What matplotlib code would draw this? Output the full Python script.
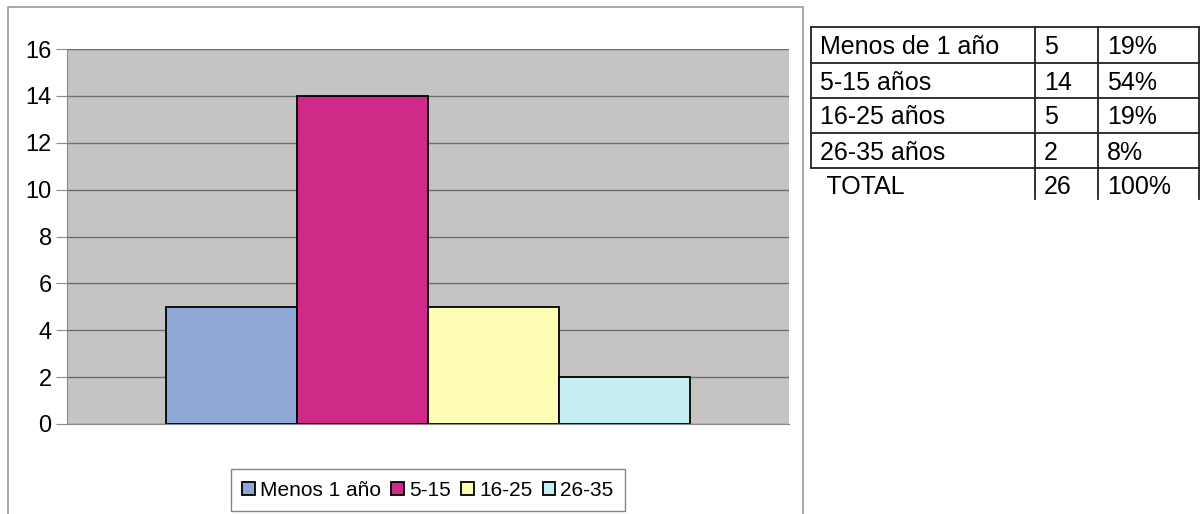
import matplotlib.pyplot as plt
from matplotlib.patches import Rectangle
from matplotlib.lines import Line2D

plt.rcParams['font.family'] = ['Liberation Sans', 'DejaVu Sans']

# datos
grupos = ['Menos 1 año', '5-15', '16-25', '26-35']
valores = [5, 14, 5, 2]
colores = ['#8fa8d8', '#cf2a88', '#fdfdb4', '#c4eef4']

filas = ['Menos de 1 año', '5-15 años', '16-25 años', '26-35 años', ' TOTAL']
cantidades = ['5', '14', '5', '2', '26']
porcentajes = ['19%', '54%', '19%', '8%', '100%']

W, H = 1204, 514
fig = plt.figure(figsize=(W / 100, H / 100), dpi=100)

def fx(px):
    return px / W

def fy(py):
    return 1 - py / H

# marco del grafico (el borde inferior queda fuera de la imagen)
fig.patches.append(Rectangle((fx(8), fy(520)), fx(803 - 8), (520 - 7) / H, transform=fig.transFigure,
                             fill=False, edgecolor='#9a9a9a', linewidth=1.2))

ax = fig.add_axes([fx(67), fy(424), fx(789 - 67), (424 - 49) / H])
ax.set_facecolor('#c6c4c2')
ancho = 0.1814
for i, (g, v, c) in enumerate(zip(grupos, valores, colores)):
    ax.bar((i - 1.5) * ancho, v, width=ancho, color=c, edgecolor='black',
           linewidth=1.3, label=g, zorder=3)
ax.set_xlim(-0.5, 0.5)
ax.set_ylim(0, 16)
ax.set_yticks(range(0, 17, 2))
ax.set_xticks([])
ax.yaxis.grid(True, color='#6e6e6e', linewidth=1.0, zorder=0)
for s in ['top', 'right']:
    ax.spines[s].set_visible(False)
ax.spines['left'].set_color('#8a8a8a')
ax.spines['bottom'].set_color('#8a8a8a')
ax.tick_params(axis='y', labelsize=17, length=8, color='#8a8a8a', pad=3)

leg = ax.legend(loc='center', bbox_to_anchor=(fx(428), fy(490)), bbox_transform=fig.transFigure,
                ncol=4, fontsize=15, frameon=True, fancybox=False, handlelength=0.6,
                handleheight=0.6, handletextpad=0.25, columnspacing=0.5, borderpad=0.53)
leg.get_frame().set_edgecolor('#666666')
leg.get_frame().set_linewidth(1.0)

# tabla de la derecha
col_x = [811, 1035, 1098, 1199]
fila_y = [27, 63, 98, 133, 168, 203]
lw = 1.3
for y in fila_y[:-1]:
    fig.add_artist(Line2D([fx(col_x[0]), fx(col_x[-1])], [fy(y), fy(y)], color='#222222', linewidth=lw))
for x in col_x:
    fig.add_artist(Line2D([fx(x), fx(x)], [fy(fila_y[0]), fy(fila_y[-2])], color='#222222', linewidth=lw))
for x in col_x[1:]:
    fig.add_artist(Line2D([fx(x), fx(x)], [fy(fila_y[-2]), fy(199)], color='#222222', linewidth=lw))

for k in range(len(filas)):
    yc = fy((fila_y[k] + fila_y[k + 1]) / 2 + 2)
    fig.text(fx(col_x[0] + 9), yc, filas[k], fontsize=18, va='center', ha='left')
    fig.text(fx(col_x[1] + 9), yc, cantidades[k], fontsize=18, va='center', ha='left')
    fig.text(fx(col_x[2] + 9), yc, porcentajes[k], fontsize=18, va='center', ha='left')

fig.savefig('out.png', dpi=100, facecolor='white')
